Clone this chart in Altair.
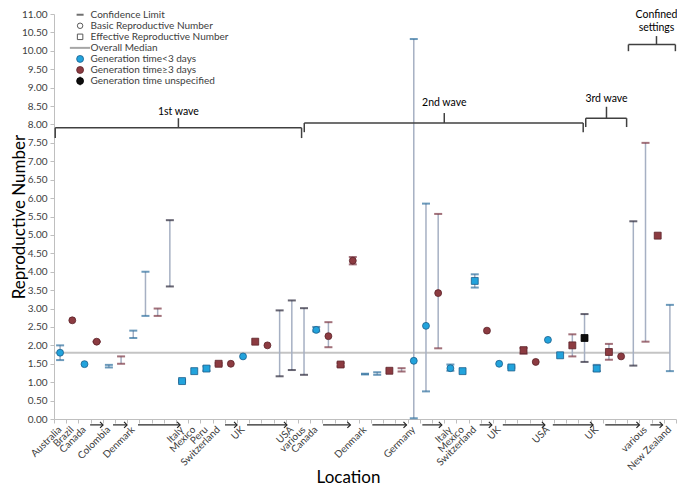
import altair as alt
import pandas as pd

# ---------------- data ----------------
# one entry per category slot (0..50)
est = [1.80, 2.68, 1.49, 2.10, None, None, None, None, None, None,
       1.03, 1.30, 1.37, 1.50, 1.50, 1.70, 2.10, 2.00, None, None,
       None, 2.42, 2.25, 1.48, 4.30, None, None, 1.31, None, 1.58,
       2.53, 3.42, 1.38, 1.30, 3.75, 2.40, 1.50, 1.40, 1.87, 1.55,
       2.15, 1.73, 2.00, 2.20, 1.37, 1.82, 1.70, None, None, 4.98, None]
lo = [1.60, None, None, 2.09, 1.40, 1.50, 2.20, 2.80, 2.80, 3.60,
      1.00, None, 1.31, 1.46, None, None, None, None, 1.16, 1.33,
      1.20, 2.38, 1.95, 1.43, 4.20, 1.21, 1.20, None, 1.29, 0.02,
      0.75, 1.92, 1.31, None, 3.57, None, None, 1.38, 1.77, None,
      None, None, 1.70, 1.55, 1.30, 1.61, None, 1.45, 2.10, None, 1.30]
hi = [2.00, None, None, 2.11, 1.47, 1.70, 2.40, 4.00, 3.00, 5.40,
      1.06, None, 1.43, 1.52, None, None, None, None, 2.95, 3.22,
      3.01, 2.50, 2.63, 1.52, 4.40, 1.23, 1.27, None, 1.38, 10.32,
      5.85, 5.57, 1.48, None, 3.93, None, None, 1.43, 1.93, None,
      None, None, 2.30, 2.85, 1.47, 2.04, None, 5.37, 7.50, None, 3.10]
gen = ["<3", "≥3", "<3", "≥3", "<3", "≥3", "<3", "<3", "≥3", "unsp",
       "<3", "<3", "<3", "≥3", "≥3", "<3", "≥3", "≥3", "unsp", "unsp",
       "unsp", "<3", "≥3", "≥3", "≥3", "<3", "<3", "≥3", "≥3", "<3",
       "<3", "≥3", "<3", "<3", "<3", "≥3", "<3", "<3", "≥3", "≥3",
       "<3", "<3", "≥3", "unsp", "<3", "≥3", "≥3", "unsp", "≥3", "≥3", "<3"]
rtype = ["B", "B", "B", "B", "", "", "", "", "", "",
         "E", "E", "E", "E", "B", "B", "E", "B", "", "",
         "", "B", "B", "E", "B", "", "", "E", "", "B",
         "B", "B", "B", "E", "E", "B", "B", "E", "E", "B",
         "B", "E", "E", "E", "E", "E", "B", "", "", "E", ""]

median_value = 1.80

label_idx = [0, 1, 2, 4, 6, 10, 11, 12, 13, 15, 19, 20, 21, 25, 29, 32, 33, 34,
             36, 40, 44, 48, 50]
label_txt = ["Australia", "Brazil", "Canada", "Colombia", "Denmark", "Italy",
             "Mexico", "Peru", "Switzerland", "UK", "USA", "various", "Canada",
             "Denmark", "Germany", "Italy", "Mexico", "Switzerland", "UK", "USA",
             "UK", "various", "New Zealand"]

arrow_start = [2.46, 4.34, 6.39, 13.52, 15.33, 21.56, 25.6, 29.7, 34.4, 36.3, 40.4, 44.7, 48.4]
arrow_end = [3.52, 5.49, 9.84, 14.51, 18.6, 23.8, 28.4, 31.3, 35.4, 39.75, 43.7, 47.5, 49.4]

wave_left = [-0.4, 20.02, 43.1, 46.6]
wave_right = [19.8, 42.89, 46.45, 50.45]
wave_center = [9.7, 31.5, 44.8, 48.9]
wave_line = [7.91, 8.04, 8.17, 10.17]
wave_drop = [7.63, 7.79, 7.93, 9.99]
wave_tick = [8.17, 8.31, 8.48, 10.40]
wave_text = ["1st wave", "2nd wave", "3rd wave", "Confined", "settings"]
wave_text_x = [9.7, 31.5, 44.8, 48.9, 48.9]
wave_text_y = [8.34, 8.57, 8.70, 10.96, 10.61]

leg_text = ["Confidence Limit", "Basic Reproductive Number",
            "Effective Reproductive Number", "Overall Median",
            "Generation time<3 days", "Generation time≥3 days",
            "Generation time unspecified"]
leg_y = [10.98, 10.68, 10.38, 10.08, 9.78, 9.48, 9.18]
leg_marker_x = 1.64
leg_text_x = 2.5

gen_domain = ["<3", "≥3", "unsp"]
fill_range = ["#22A3DC", "#8C3B41", "#0D0D0D"]
stroke_range = ["#1B5E8C", "#5C2228", "#000000"]
cap_range = ["#2D6F9E", "#7B3442", "#262436"]

FONT = "Lato"
W, H = 622, 405

# ---------------- tables ----------------
n = len(est)
df = pd.DataFrame({"x": list(range(n)), "est": est, "lo": lo, "hi": hi,
                   "gen": gen, "rtype": rtype})
pts = df[df["est"].notna()].rename(columns={"est": "y"})
ci = df[df["lo"].notna()].rename(columns={"lo": "y", "hi": "y2"})
caps = pd.concat([
    df[df["lo"].notna()][["x", "lo", "gen"]].rename(columns={"lo": "y"}),
    df[df["hi"].notna()][["x", "hi", "gen"]].rename(columns={"hi": "y"}),
])

med = pd.DataFrame({"x": [-0.5], "x2": [n - 1], "y": [median_value]})
labels = pd.DataFrame({"x": label_idx, "y": [-0.25] * len(label_idx), "t": label_txt})
arrows = pd.DataFrame({"x": arrow_start, "x2": arrow_end, "y": [-0.16] * len(arrow_end)})
heads = pd.DataFrame({"x": arrow_end, "y": [-0.16] * len(arrow_end)})

segs = []
for l, r, c, yl, yd, yt in zip(wave_left, wave_right, wave_center, wave_line, wave_drop, wave_tick):
    segs.append({"x": l, "x2": r, "y": yl, "y2": yl})
    segs.append({"x": l, "x2": l, "y": yl, "y2": yd})
    segs.append({"x": r, "x2": r, "y": yl, "y2": yd})
    segs.append({"x": c, "x2": c, "y": yl, "y2": yt})
segs = pd.DataFrame(segs)
wtext = pd.DataFrame({"x": wave_text_x, "y": wave_text_y, "t": wave_text})

leg = pd.DataFrame({"x": [leg_text_x] * len(leg_text), "y": leg_y, "t": leg_text})
leg_ci = pd.DataFrame({"x": [leg_marker_x], "y": [leg_y[0]]})
leg_open = pd.DataFrame({"x": [leg_marker_x] * 2, "y": leg_y[1:3], "s": ["circle", "square"]})
leg_med = pd.DataFrame({"x": [0.8], "x2": [leg_text_x - 0.05], "y": [leg_y[3]]})
leg_fill = pd.DataFrame({"x": [leg_marker_x] * 3, "y": leg_y[4:7], "gen": gen_domain})
leg_bar = pd.DataFrame({"x": [leg_marker_x], "y": [leg_y[6] - 0.12], "y2": [leg_y[6] + 0.12]})

# ---------------- scales / axes ----------------
xs = alt.Scale(domain=[-0.5, n - 0.5], nice=False, zero=False)
ys = alt.Scale(domain=[0, 11], nice=False, zero=False)
xaxis = alt.Axis(values=[i - 0.5 for i in range(n + 1)], labels=False, grid=False,
                 tickSize=4, tickColor="#BFBFBF", domainColor="#BFBFBF",
                 title="Location", titleFontSize=17, titleFontWeight="normal",
                 titleColor="#000000", titleX=294, titleY=63,
                 titleBaseline="alphabetic", titleAlign="center")
yaxis = alt.Axis(values=[i * 0.5 for i in range(23)], format=".2f", grid=False,
                 tickSize=4, tickColor="#BFBFBF", domainColor="#BFBFBF",
                 labelFontSize=10, labelColor="#404040", labelPadding=3,
                 title="Reproductive Number", titleFontSize=17,
                 titleFontWeight="normal", titleColor="#000000",
                 titleX=-30, titleY=H / 2, titleAngle=270,
                 titleBaseline="alphabetic", titleAlign="center")


def X(f="x"):
    return alt.X(f"{f}:Q", scale=xs, axis=xaxis)


def Y(f="y"):
    return alt.Y(f"{f}:Q", scale=ys, axis=yaxis)


median_layer = alt.Chart(med).mark_rule(color="#C4C4C4", strokeWidth=2).encode(
    x=X(), x2="x2:Q", y=Y())

ci_layer = alt.Chart(ci).mark_rule(color="#A6B0C3", strokeWidth=1.5).encode(
    x=X(), y=Y(), y2="y2:Q")

cap_layer = alt.Chart(caps).mark_tick(orient="horizontal", size=8, thickness=2).encode(
    x=X(), y=Y(),
    color=alt.Color("gen:N", scale=alt.Scale(domain=gen_domain, range=cap_range), legend=None))

pt_layer = alt.Chart(pts).mark_point(filled=True, opacity=1, size=48, strokeWidth=0.8).encode(
    x=X(), y=Y(),
    shape=alt.Shape("rtype:N", scale=alt.Scale(domain=["B", "E"], range=["circle", "square"]), legend=None),
    fill=alt.Fill("gen:N", scale=alt.Scale(domain=gen_domain, range=fill_range), legend=None),
    stroke=alt.Stroke("gen:N", scale=alt.Scale(domain=gen_domain, range=stroke_range), legend=None))

label_layer = alt.Chart(labels).mark_text(angle=315, align="right", baseline="middle",
                                          fontSize=10, color="#404040", font=FONT).encode(
    x=X(), y=Y(), text="t:N")

arrow_layer = alt.Chart(arrows).mark_rule(color="#262626", strokeWidth=1.2).encode(
    x=X(), x2="x2:Q", y=Y())
head_layer = alt.Chart(heads).mark_point(shape="M-1,-1L0,0L-1,1", filled=False, size=36,
                                         color="#262626", strokeWidth=1.2, opacity=1).encode(
    x=X(), y=Y())

seg_layer = alt.Chart(segs).mark_rule(color="#404040", strokeWidth=1.5).encode(
    x=X(), x2="x2:Q", y=Y(), y2="y2:Q")
wtext_layer = alt.Chart(wtext).mark_text(fontSize=10.5, color="#000000", baseline="middle",
                                         font=FONT).encode(x=X(), y=Y(), text="t:N")

leg_text_layer = alt.Chart(leg).mark_text(fontSize=10, color="#404040", align="left",
                                          baseline="middle", font=FONT).encode(
    x=X(), y=Y(), text="t:N")
leg_ci_layer = alt.Chart(leg_ci).mark_tick(orient="horizontal", size=7, thickness=2,
                                           color="#333333").encode(x=X(), y=Y())
leg_open_layer = alt.Chart(leg_open).mark_point(filled=False, size=30, color="#595959",
                                                strokeWidth=1, opacity=1).encode(
    x=X(), y=Y(),
    shape=alt.Shape("s:N", scale=alt.Scale(domain=["circle", "square"], range=["circle", "square"]), legend=None))
leg_med_layer = alt.Chart(leg_med).mark_rule(color="#A6A6A6", strokeWidth=2).encode(
    x=X(), x2="x2:Q", y=Y())
leg_bar_layer = alt.Chart(leg_bar).mark_rule(color="#555555", strokeWidth=1).encode(
    x=X(), y=Y(), y2="y2:Q")
leg_fill_layer = alt.Chart(leg_fill).mark_point(filled=True, size=48, strokeWidth=0.8, opacity=1).encode(
    x=X(), y=Y(),
    fill=alt.Fill("gen:N", scale=alt.Scale(domain=gen_domain, range=fill_range), legend=None),
    stroke=alt.Stroke("gen:N", scale=alt.Scale(domain=gen_domain, range=stroke_range), legend=None))

chart = alt.layer(
    median_layer, ci_layer, cap_layer, pt_layer, label_layer, arrow_layer, head_layer,
    seg_layer, wtext_layer, leg_text_layer, leg_ci_layer, leg_open_layer, leg_med_layer,
    leg_bar_layer, leg_fill_layer,
).properties(
    width=W, height=H,
    padding={"left": 46, "top": 6, "right": 1, "bottom": 70},
    autosize=alt.AutoSizeParams(type="none"),
).configure_view(stroke=None).configure_axis(labelFont=FONT, titleFont=FONT)

chart.save("out.html", embed_options={"renderer": "svg", "actions": False})
